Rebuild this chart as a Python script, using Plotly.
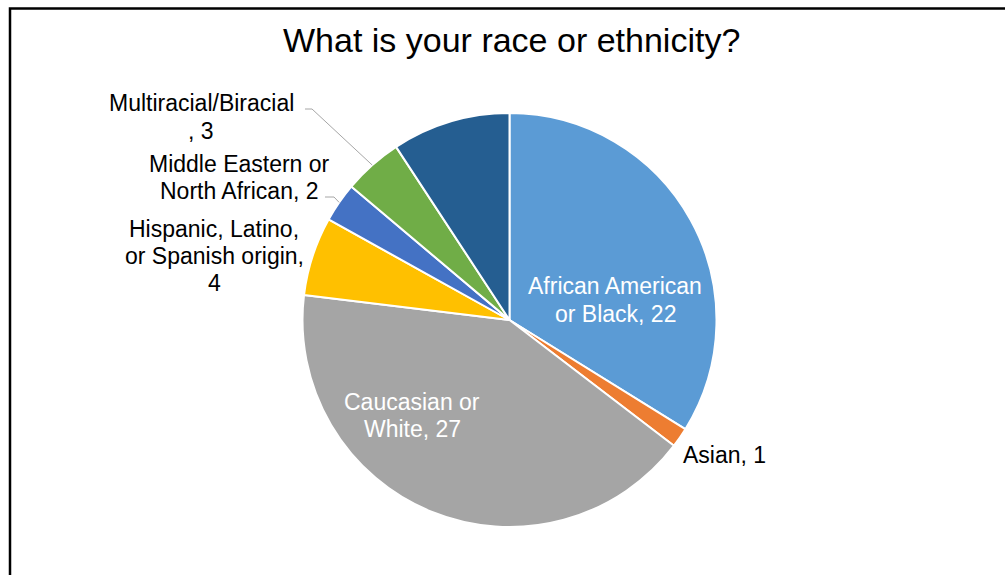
import math
import plotly.graph_objects as go

# Survey responses by race / ethnicity
categories = [
    "African American or Black",
    "Asian",
    "Caucasian or White",
    "Hispanic, Latino, or Spanish origin",
    "Middle Eastern or North African",
    "Multiracial/Biracial",
    "Prefer not to answer",
]
counts = [22, 1, 27, 4, 2, 3, 6]
# Data-label lines as wrapped on the chart; last slice carries no label
label_lines = [
    ["African American", "or Black, {}"],
    ["Asian, {}"],
    ["Caucasian or", "White, {}"],
    ["Hispanic, Latino,", "or Spanish origin,", "{}"],
    ["Middle Eastern or", "North African, {}"],
    ["Multiracial/Biracial", ", {}"],
    None,
]
colors = ["#5B9BD5", "#ED7D31", "#A5A5A5", "#FFC000", "#4472C4", "#70AD47", "#255E91"]

W, H = 1005, 575
FONT = "Liberation Sans, Arial, sans-serif"
LABEL_SIZE = 23
LINE_GAP = 27  # pixels between label lines

# Pie geometry in pixels
CX, CY, R = 509.5, 320.0, 207.0


def px(x):
    return x / W


def py(y):
    return 1 - y / H


# Label block centres (pixels), text colour, and optional leader-line elbow
label_style = [
    dict(pos=(615, 300), color="white"),
    dict(pos=(724, 455), color="black"),
    dict(pos=(412, 415), color="white"),
    dict(pos=(214, 256), color="black"),
    dict(pos=(239, 177), color="black", leader=((325, 197), (334, 197))),
    dict(pos=(201, 117), color="black", leader=((305, 109), (312, 109))),
    None,
]

fig = go.Figure(
    go.Pie(
        labels=categories,
        values=counts,
        sort=False,
        direction="clockwise",
        rotation=0,
        textinfo="none",
        marker=dict(colors=colors, line=dict(color="white", width=2)),
        domain=dict(x=[px(CX - R), px(CX + R)], y=[py(CY + R), py(CY - R)]),
        showlegend=False,
    )
)

annotations = [
    dict(
        text="What is your race or ethnicity?",
        x=px(511.5), y=py(40), xref="paper", yref="paper",
        xanchor="center", yanchor="middle", showarrow=False,
        font=dict(family=FONT, size=34, color="black"),
    )
]
shapes = [
    # chart-area frame
    dict(
        type="rect", xref="paper", yref="paper",
        x0=px(10), x1=1.05, y0=-0.05, y1=py(8.5),
        line=dict(color="black", width=2.5), fillcolor="rgba(0,0,0,0)",
    )
]

total = sum(counts)
start = 0.0
for cnt, lines, st in zip(counts, label_lines, label_style):
    frac = cnt / total
    mid = (start + frac / 2) * 2 * math.pi
    start += frac
    if lines is None:
        continue
    lx, ly = st["pos"]
    top = ly - LINE_GAP * (len(lines) - 1) / 2
    for i, line in enumerate(lines):
        annotations.append(
            dict(
                text=line.format(cnt),
                x=px(lx), y=py(top + i * LINE_GAP), xref="paper", yref="paper",
                xanchor="center", yanchor="middle", showarrow=False,
                font=dict(family=FONT, size=LABEL_SIZE, color=st["color"]),
            )
        )
    if "leader" in st:
        # leader line runs from the label to the slice's outer edge at its mid-angle
        (ax, ay), (bx, by) = st["leader"]
        ex = CX + R * math.sin(mid)
        ey = CY - R * math.cos(mid)
        path = "M {:.5f},{:.5f} L {:.5f},{:.5f} L {:.5f},{:.5f}".format(
            px(ax), py(ay), px(bx), py(by), px(ex), py(ey)
        )
        shapes.append(
            dict(type="path", xref="paper", yref="paper", path=path,
                 line=dict(color="#A6A6A6", width=1))
        )

fig.update_layout(
    width=W,
    height=H,
    margin=dict(l=0, r=0, t=0, b=0),
    paper_bgcolor="white",
    plot_bgcolor="white",
    annotations=annotations,
    shapes=shapes,
)

fig.write_html("out.html")
